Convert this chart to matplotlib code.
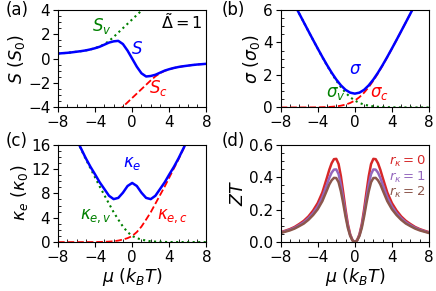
"""
Transport of a gapped two-band model: S, sigma, kappa_e and ZT vs chemical potential.
Output: out.png (436x291 px)
"""

import numpy as np
import matplotlib
matplotlib.use("Agg")
import matplotlib.pyplot as plt
from matplotlib.ticker import MultipleLocator

nan = np.nan

# ---------- data (mu in k_B T) -----------------------------------------------
mu = np.linspace(-8, 8, 33)

S_tot = [0.42, 0.45, 0.48, 0.52, 0.57, 0.62, 0.68, 0.76, 0.86, 0.98, 1.15, 1.32,
         1.42, 1.46, 1.20, 0.66, 0.00, -0.66, -1.20, -1.46, -1.42, -1.32, -1.15,
         -0.98, -0.86, -0.76, -0.68, -0.62, -0.57, -0.52, -0.48, -0.45, -0.42]
S_v = [0.42, 0.45, 0.48, 0.52, 0.57, 0.62, 0.68, 0.76, 0.87, 1.00, 1.19, 1.45,
       1.78, 2.14, 2.50, 2.86, 3.22, 3.58, 3.94, 4.30,
       nan, nan, nan, nan, nan, nan, nan, nan, nan, nan, nan, nan, nan]
S_c = [nan, nan, nan, nan, nan, nan, nan, nan, nan, nan, nan, nan, nan,
       -4.30, -3.94, -3.58, -3.22, -2.86, -2.50, -2.14, -1.78, -1.45, -1.19,
       -1.00, -0.87, -0.76, -0.68, -0.62, -0.57, -0.52, -0.48, -0.45, -0.42]

sig_tot = [7.976, 7.426, 6.878, 6.330, 5.782, 5.237, 4.694, 4.156, 3.627, 3.109,
           2.611, 2.143, 1.720, 1.361, 1.085, 0.911, 0.850, 0.911, 1.085, 1.361,
           1.720, 2.143, 2.611, 3.109, 3.627, 4.156, 4.694, 5.237, 5.782, 6.330,
           6.878, 7.426, 7.976]
sig_c = [0.0002, 0.0003, 0.0005, 0.0008, 0.0013, 0.0021, 0.0035, 0.0058, 0.0095,
         0.016, 0.026, 0.042, 0.068, 0.110, 0.176, 0.277, 0.425, 0.634, 0.909,
         1.251, 1.652, 2.101, 2.585, 3.093, 3.617, 4.150, 4.690, 5.235, 5.781,
         6.329, 6.877, 7.426, 7.976]
sig_v = [7.976, 7.426, 6.877, 6.329, 5.781, 5.235, 4.690, 4.150, 3.617, 3.093,
         2.585, 2.101, 1.652, 1.251, 0.909, 0.634, 0.425, 0.277, 0.176, 0.110,
         0.068, 0.042, 0.026, 0.016, 0.0095, 0.0058, 0.0035, 0.0021, 0.0013,
         0.0008, 0.0005, 0.0003, 0.0002]

kap_tot = [23.0, 21.4, 19.9, 18.45, 16.85, 15.3, 13.75, 12.35, 11.1, 9.8, 8.7,
           7.6, 7.05, 7.25, 8.1, 9.2, 9.7, 9.2, 8.1, 7.25, 7.05, 7.6, 8.7, 9.8,
           11.1, 12.35, 13.75, 15.3, 16.85, 18.45, 19.9, 21.4, 23.0]
kap_v = [23.0, 21.4, 19.9, 18.4, 16.8, 15.2, 13.6, 12.1, 10.6, 9.1, 7.7, 6.3,
         4.9, 3.7, 2.55, 1.65, 1.0, 0.65, 0.42, 0.25, 0.14, 0.08, 0.045, 0.025,
         0.014, 0.008, 0.005, 0.003, 0.002, 0.001, 0.001, 0.0005, 0.0003]
kap_c = [0.0003, 0.0005, 0.001, 0.001, 0.002, 0.003, 0.005, 0.008, 0.014, 0.025,
         0.045, 0.08, 0.14, 0.25, 0.42, 0.65, 1.0, 1.65, 2.55, 3.7, 4.9, 6.3,
         7.7, 9.1, 10.6, 12.1, 13.6, 15.2, 16.8, 18.4, 19.9, 21.4, 23.0]

# ZT is read on a finer step around the peaks
mu_zt = [-8, -7.5, -7, -6.5, -6, -5.5, -5, -4.5, -4, -3.5,
         -3, -2.75, -2.5, -2.25, -2, -1.75, -1.5, -1.25, -1, -0.75, -0.5, -0.25,
         0, 0.25, 0.5, 0.75, 1, 1.25, 1.5, 1.75, 2, 2.25, 2.5, 2.75, 3,
         3.5, 4, 4.5, 5, 5.5, 6, 6.5, 7, 7.5, 8]
ZT_r0 = [0.061, 0.070, 0.080, 0.093, 0.111, 0.131, 0.158, 0.194, 0.240, 0.305,
         0.397, 0.445, 0.485, 0.510, 0.512, 0.480, 0.405, 0.305, 0.200, 0.110,
         0.048, 0.012, 0.0, 0.012, 0.048, 0.110, 0.200, 0.305, 0.405, 0.480,
         0.512, 0.510, 0.485, 0.445, 0.397,
         0.305, 0.240, 0.194, 0.158, 0.131, 0.111, 0.093, 0.080, 0.070, 0.061]
ZT_r1 = [0.058, 0.067, 0.076, 0.088, 0.104, 0.122, 0.147, 0.178, 0.219, 0.276,
         0.355, 0.395, 0.427, 0.446, 0.447, 0.418, 0.353, 0.268, 0.177, 0.098,
         0.043, 0.011, 0.0, 0.011, 0.043, 0.098, 0.177, 0.268, 0.353, 0.418,
         0.447, 0.446, 0.427, 0.395, 0.355,
         0.276, 0.219, 0.178, 0.147, 0.122, 0.104, 0.088, 0.076, 0.067, 0.058]
ZT_r2 = [0.056, 0.064, 0.072, 0.083, 0.098, 0.114, 0.137, 0.166, 0.202, 0.252,
         0.320, 0.355, 0.380, 0.395, 0.394, 0.368, 0.312, 0.238, 0.157, 0.087,
         0.038, 0.010, 0.0, 0.010, 0.038, 0.087, 0.157, 0.238, 0.312, 0.368,
         0.394, 0.395, 0.380, 0.355, 0.320,
         0.252, 0.202, 0.166, 0.137, 0.114, 0.098, 0.083, 0.072, 0.064, 0.056]
ZT_labels = [r"$r_\kappa=0$", r"$r_\kappa=1$", r"$r_\kappa=2$"]

# ---------- figure ------------------------------------------------------------
plt.rcParams["font.size"] = 11
plt.rcParams["mathtext.fontset"] = "dejavusans"

fig, axs = plt.subplots(2, 2, figsize=(4.36, 2.91), dpi=100)
fig.subplots_adjust(left=0.133, right=0.984, bottom=0.168, top=0.966,
                    wspace=0.5, hspace=0.38)
ax_a, ax_b, ax_c, ax_d = axs.ravel()

LW = 1.8

# (a) Seebeck
ax_a.plot(mu, S_v, color="g", ls=":", lw=1.5)
ax_a.plot(mu, S_c, color="r", ls="--", lw=1.3)
ax_a.plot(mu, S_tot, color="b", lw=LW)
ax_a.set_ylim(-4, 4)
ax_a.yaxis.set_major_locator(MultipleLocator(2))
ax_a.yaxis.set_minor_locator(MultipleLocator(0.5))
ax_a.set_ylabel(r"$S$ $(S_0)$", fontsize=12.5, labelpad=1)
ax_a.text(0.97, 0.88, r"$\tilde{\Delta}=1$", transform=ax_a.transAxes,
          ha="right", va="center", fontsize=11.5)
ax_a.text(-3.3, 2.65, r"$S_v$", color="g", ha="center", va="center", fontsize=12)
ax_a.text(0.55, 0.8, r"$S$", color="b", ha="center", va="center", fontsize=12)
ax_a.text(2.85, -2.4, r"$S_c$", color="r", ha="center", va="center", fontsize=12)

# (b) conductivity
ax_b.plot(mu, sig_v, color="g", ls=":", lw=1.5)
ax_b.plot(mu, sig_c, color="r", ls="--", lw=1.3)
ax_b.plot(mu, sig_tot, color="b", lw=LW)
ax_b.set_ylim(0, 6)
ax_b.yaxis.set_major_locator(MultipleLocator(2))
ax_b.yaxis.set_minor_locator(MultipleLocator(0.5))
ax_b.set_ylabel(r"$\sigma$ $(\sigma_0)$", fontsize=12.5, labelpad=1)
ax_b.text(0.1, 2.35, r"$\sigma$", color="b", ha="center", va="center", fontsize=12)
ax_b.text(-2.1, 0.86, r"$\sigma_v$", color="g", ha="center", va="center", fontsize=12)
ax_b.text(2.6, 0.86, r"$\sigma_c$", color="r", ha="center", va="center", fontsize=12)

# (c) electronic thermal conductivity
ax_c.plot(mu, kap_v, color="g", ls=":", lw=1.5)
ax_c.plot(mu, kap_c, color="r", ls="--", lw=1.3)
ax_c.plot(mu, kap_tot, color="b", lw=LW)
ax_c.set_ylim(0, 16)
ax_c.yaxis.set_major_locator(MultipleLocator(4))
ax_c.yaxis.set_minor_locator(MultipleLocator(1))
ax_c.set_ylabel(r"$\kappa_e$ $(\kappa_0)$", fontsize=12.5, labelpad=1)
ax_c.text(0.0, 12.9, r"$\kappa_e$", color="b", ha="center", va="center", fontsize=12)
ax_c.text(-3.9, 4.3, r"$\kappa_{e,v}$", color="g", ha="center", va="center", fontsize=12)
ax_c.text(4.4, 4.3, r"$\kappa_{e,c}$", color="r", ha="center", va="center", fontsize=12)

# (d) figure of merit
zt_colors = ["tab:red", "tab:purple", "tab:brown"]
for zt, c in zip([ZT_r0, ZT_r1, ZT_r2], zt_colors):
    ax_d.plot(mu_zt, zt, color=c, lw=LW)
ax_d.set_ylim(0, 0.6)
ax_d.yaxis.set_major_locator(MultipleLocator(0.2))
ax_d.yaxis.set_minor_locator(MultipleLocator(0.05))
ax_d.set_ylabel(r"$ZT$", fontsize=12.5, labelpad=1)
for lab, c, y in zip(ZT_labels, zt_colors, [0.495, 0.40, 0.305]):
    ax_d.text(7.65, y, lab, color=c, ha="right", va="center", fontsize=9.5)

for ax in axs.ravel():
    ax.set_xlim(-8, 8)
    ax.xaxis.set_major_locator(MultipleLocator(4))
    ax.xaxis.set_minor_locator(MultipleLocator(1))
    ax.tick_params(which="major", direction="out", length=3.5, labelsize=11, pad=2)
    ax.tick_params(which="minor", direction="in", length=2)
for ax in (ax_c, ax_d):
    ax.set_xlabel(r"$\mu$ $(k_BT)$", fontsize=12.5, labelpad=1)

# panel letters
for x, y, s in [(0.014, 0.966, "(a)"), (0.509, 0.966, "(b)"),
                (0.014, 0.514, "(c)"), (0.509, 0.514, "(d)")]:
    fig.text(x, y, s, ha="left", va="center", fontsize=12)

plt.savefig("out.png", dpi=100)
